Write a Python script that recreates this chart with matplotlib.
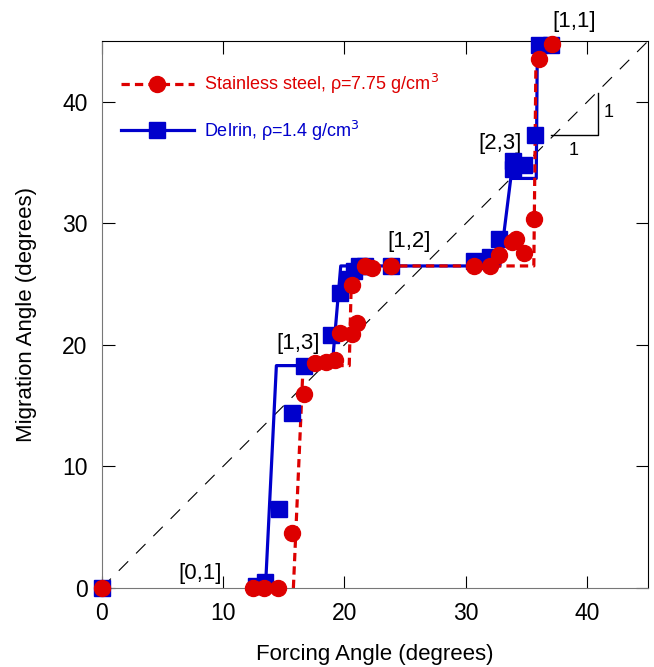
import numpy as np
import matplotlib.pyplot as plt

plt.rcParams['font.family'] = ['Liberation Sans', 'DejaVu Sans']

# stainless steel (red circles)
steel_x = [0, 12.5, 13.4, 14.5, 15.7, 16.7, 17.6, 18.5, 19.2, 19.6, 20.6, 21.0,
           20.6, 21.7, 22.3, 23.8, 30.7, 32.0, 32.7, 33.8, 34.1, 34.8, 35.6, 36.0, 37.1]
steel_y = [0, 0, 0, 0, 4.5, 16.0, 18.5, 18.6, 18.8, 21.0, 20.9, 21.8,
           24.9, 26.5, 26.3, 26.5, 26.5, 26.5, 27.4, 28.5, 28.7, 27.6, 30.4, 43.5, 44.8]

# delrin (blue squares)
delrin_x = [0, 12.7, 13.5, 14.6, 15.7, 16.7, 18.9, 19.6, 20.3, 20.8, 21.2, 21.7, 23.8,
            30.7, 32.0, 32.7, 33.9, 33.9, 34.8, 35.7, 36.0, 37.0]
delrin_y = [0, 0.2, 0.5, 6.5, 14.4, 18.3, 20.8, 24.3, 25.4, 26.1, 26.5, 26.5, 26.5,
            26.9, 27.2, 28.7, 35.1, 34.5, 34.8, 37.3, 44.7, 44.7]

# step fits
steel_fit_x = [15.8, 16.6, 20.4, 20.6, 35.6, 35.8]
steel_fit_y = [0, 18.3, 18.3, 26.5, 26.5, 46]
delrin_fit_x = [13.5, 14.4, 19.0, 19.7, 32.8, 33.7, 35.8, 35.9]
delrin_fit_y = [0, 18.3, 18.3, 26.5, 26.5, 33.7, 33.7, 46]

labels = ['[0,1]', '[1,3]', '[1,2]', '[2,3]', '[1,1]']
label_x = [8.1, 16.2, 25.3, 32.8, 38.9]
label_y = [1.2, 20.1, 28.5, 36.6, 46.6]

red = '#dd0000'
blue = '#0000cc'

fig = plt.figure(figsize=(6.54, 6.67), dpi=100)
ax = fig.add_axes([0.1552, 0.1184, 0.8356, 0.8200])

ax.plot([0, 50], [0, 50], '--', color='k', lw=0.8, dashes=(12, 10))

ax.plot(delrin_fit_x, delrin_fit_y, '-', color=blue, lw=2.3)
ax.plot(steel_fit_x, steel_fit_y, '--', color=red, lw=2.3, dashes=(2.6, 1.6))

ax.plot(delrin_x, delrin_y, 's', color=blue, ms=11, clip_on=False, zorder=4)
ax.plot(steel_x, steel_y, 'o', color=red, ms=11.5, clip_on=False, zorder=5)

# legend drawn as handles
l1, = ax.plot([], [], '--o', color=red, lw=2.3, ms=11.5, dashes=(2.6, 1.6))
l2, = ax.plot([], [], '-s', color=blue, lw=2.3, ms=11)
leg = ax.legend([l1, l2], [r'Stainless steel, ρ=7.75 g/cm$^3$', r'Delrin, ρ=1.4 g/cm$^3$'],
                loc='upper left', frameon=False, fontsize=13, handlelength=4.0,
                handletextpad=0.6, labelspacing=1.25, borderaxespad=0.0,
                bbox_to_anchor=(0.023, 0.957))
for t, c in zip(leg.get_texts(), [red, blue]):
    t.set_color(c)

for s, x, y in zip(labels, label_x, label_y):
    ax.text(x, y, s, fontsize=16, ha='center', va='center', clip_on=False)

# slope triangle
ax.plot([37.0, 40.9, 40.9], [37.3, 37.3, 40.7], color='k', lw=1)
ax.text(41.8, 39.1, '1', fontsize=13, ha='center', va='center')
ax.text(38.9, 36.0, '1', fontsize=13, ha='center', va='center')

ax.set_xlim(0, 45)
ax.set_ylim(0, 45)
ax.set_xticks([0, 10, 20, 30, 40])
ax.set_yticks([0, 10, 20, 30, 40])
ax.spines['left'].set_color('#777777')
ax.spines['bottom'].set_color('#777777')
ax.tick_params(direction='in', length=9, labelsize=16.5, top=True, right=True, pad=10)
ax.set_xlabel('Forcing Angle (degrees)', fontsize=16, labelpad=14)
ax.set_ylabel('Migration Angle (degrees)', fontsize=16, labelpad=18)

fig.savefig('out.png', dpi=100)
